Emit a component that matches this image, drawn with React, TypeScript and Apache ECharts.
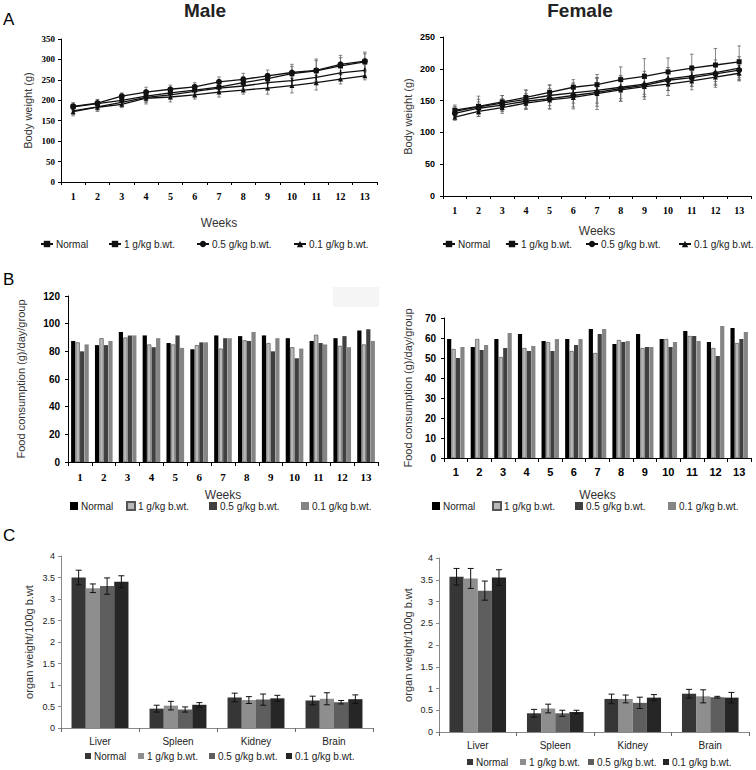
import React, { useEffect, useRef } from 'react';
import * as echarts from 'echarts';

const weeks = ['1', '2', '3', '4', '5', '6', '7', '8', '9', '10', '11', '12', '13'];
const groupNames = ['Normal', '1 g/kg b.wt.', '0.5 g/kg b.wt.', '0.1 g/kg b.wt.'];
const organs = ['Liver', 'Spleen', 'Kidney', 'Brain'];

// Panel A – body weight (g)
const maleWtNormal = [174, 184, 195, 207, 213, 222, 230, 235, 243, 248, 256, 267, 273];
const maleWt1g = [184, 192, 200, 210, 218, 225, 232, 243, 253, 265, 272, 284, 294];
const maleWt05 = [185, 193, 210, 220, 227, 233, 245, 251, 260, 268, 273, 288, 296];
const maleWt01 = [172, 183, 190, 205, 208, 213, 220, 225, 230, 236, 243, 252, 260];
const maleErrNormal = [8, 10, 10, 12, 10, 12, 10, 12, 14, 12, 12, 14, 14];
const maleErr1g = [10, 10, 10, 12, 8, 10, 10, 15, 12, 18, 25, 20, 20];
const maleErr05 = [8, 8, 8, 12, 10, 10, 12, 15, 14, 20, 28, 22, 22];
const maleErr01 = [10, 10, 8, 14, 12, 10, 12, 10, 15, 18, 18, 12, 10];

const femaleWtNormal = [133, 140, 146, 152, 158, 162, 166, 171, 176, 184, 189, 194, 201];
const femaleWt1g = [135, 141, 148, 155, 163, 171, 175, 183, 188, 195, 201, 206, 211];
const femaleWt05 = [130, 138, 143, 149, 153, 158, 163, 169, 174, 182, 186, 192, 198];
const femaleWt01 = [124, 133, 139, 146, 151, 155, 161, 167, 172, 176, 181, 187, 193];
const femaleErrNormal = [8, 12, 12, 14, 16, 16, 20, 18, 20, 18, 16, 20, 18];
const femaleErr1g = [8, 16, 10, 12, 12, 12, 16, 20, 28, 22, 22, 26, 25];
const femaleErr05 = [6, 10, 10, 12, 16, 18, 22, 20, 18, 16, 14, 16, 16];
const femaleErr01 = [5, 8, 9, 10, 14, 18, 25, 18, 20, 18, 14, 16, 12];

// Panel B – food consumption (g)/day/group
const maleFoodNormal = [87.5, 84.5, 94, 91.5, 86, 81.5, 91.5, 91, 91.5, 89.5, 87.5, 89.5, 95];
const maleFood1g = [86.5, 89.5, 90, 85, 85, 84.5, 82, 88, 86, 83, 92, 84, 85];
const maleFood05 = [80, 84.5, 91.5, 83, 91.5, 86.5, 89.5, 87.5, 80, 75, 86, 91, 96];
const maleFood01 = [85, 87.5, 91.5, 89.5, 82.5, 86.5, 89.5, 94, 89.5, 82, 85, 83, 87.5];

const femaleFoodNormal = [59.5, 55.5, 59.5, 62, 58.5, 59.5, 64.5, 57, 62, 59.5, 63.5, 58, 65];
const femaleFood1g = [54.5, 59.5, 50.5, 55, 58, 53.5, 52.5, 59, 55, 59.5, 61, 55, 57.5];
const femaleFood05 = [50, 54, 55, 53.5, 53.5, 56.5, 62, 58, 55.5, 55.5, 61, 51, 59.5];
const femaleFood01 = [55.5, 56.5, 62.5, 56, 59.5, 59.5, 64.5, 58.5, 55.5, 58, 58.5, 66, 63];

// Panel C – organ weight / 100 g b.wt (mean, error)
const maleOrganNormal = [3.5, 0.45, 0.71, 0.64];
const maleOrgan1g = [3.25, 0.52, 0.65, 0.68];
const maleOrgan05 = [3.3, 0.43, 0.66, 0.6];
const maleOrgan01 = [3.4, 0.54, 0.69, 0.67];
const maleOrganErrNormal = [0.17, 0.08, 0.1, 0.1];
const maleOrganErr1g = [0.1, 0.1, 0.08, 0.14];
const maleOrganErr05 = [0.19, 0.06, 0.13, 0.04];
const maleOrganErr01 = [0.14, 0.05, 0.07, 0.1];

const femaleOrganNormal = [3.57, 0.43, 0.76, 0.88];
const femaleOrgan1g = [3.53, 0.54, 0.76, 0.82];
const femaleOrgan05 = [3.25, 0.43, 0.67, 0.8];
const femaleOrgan01 = [3.55, 0.46, 0.79, 0.79];
const femaleOrganErrNormal = [0.19, 0.09, 0.11, 0.1];
const femaleOrganErr1g = [0.23, 0.1, 0.09, 0.15];
const femaleOrganErr05 = [0.22, 0.07, 0.13, 0.02];
const femaleOrganErr01 = [0.18, 0.04, 0.07, 0.12];

const SANS = 'Liberation Sans, Arial, sans-serif';
const SERIF = 'Liberation Serif, Times New Roman, serif';

function lineErr(color: string, cap: number) {
  return (params: any, api: any) => {
    const x = api.value(0);
    const y = api.value(1);
    const e = api.value(2);
    const p1 = api.coord([x, y + e]);
    const p2 = api.coord([x, y - e]);
    const st = { stroke: color, lineWidth: 0.8 };
    return {
      type: 'group',
      children: [
        { type: 'line', shape: { x1: p1[0], y1: p1[1], x2: p2[0], y2: p2[1] }, style: st },
        { type: 'line', shape: { x1: p1[0] - cap, y1: p1[1], x2: p1[0] + cap, y2: p1[1] }, style: st },
        { type: 'line', shape: { x1: p2[0] - cap, y1: p2[1], x2: p2[0] + cap, y2: p2[1] }, style: st },
      ],
    };
  };
}

function barErr(idx: number, n: number, gap: number, cap: number) {
  return (params: any, api: any) => {
    const x = api.value(0);
    const y = api.value(1);
    const e = api.value(2);
    const w = api.size([1, 0])[0];
    const gw = w * (1 - gap);
    const bw = gw / n;
    const off = -gw / 2 + bw * (idx + 0.5);
    const p1 = api.coord([x, y + e]);
    const p2 = api.coord([x, y - e]);
    const cx = p1[0] + off;
    const st = { stroke: '#111', lineWidth: 1 };
    return {
      type: 'group',
      children: [
        { type: 'line', shape: { x1: cx, y1: p1[1], x2: cx, y2: p2[1] }, style: st },
        { type: 'line', shape: { x1: cx - cap, y1: p1[1], x2: cx + cap, y2: p1[1] }, style: st },
        { type: 'line', shape: { x1: cx - cap, y1: p2[1], x2: cx + cap, y2: p2[1] }, style: st },
      ],
    };
  };
}

const lineSymbols: any[] = [
  { symbol: 'path://M0,0H1V10H0Z', symbolSize: [1.5, 6] },
  { symbol: 'rect', symbolSize: 5 },
  { symbol: 'circle', symbolSize: 6 },
  { symbol: 'triangle', symbolSize: 5 },
];

const foodColors = ['#000000', '#b8b8b8', '#404040', '#858585'];
const organColors = ['#363636', '#8e8e8e', '#5e5e5e', '#262626'];

export default function App() {
  const ref = useRef<HTMLDivElement>(null);

  useEffect(() => {
    document.body.style.margin = '0';
    const chart = echarts.init(ref.current!, null, { renderer: 'svg', width: 756, height: 770 });

    const series: any[] = [];
    const legends: any[] = [];

    const addLegend = (name: string, left: number, top: number, extra: any = {}) => {
      legends.push({
        data: [name],
        left,
        top,
        padding: 0,
        itemGap: 0,
        selectedMode: false,
        formatter: (n: string) => n.split('|')[1],
        textStyle: { fontFamily: SANS, fontSize: 10, color: '#222', padding: [0, 0, 0, -2] },
        ...extra,
      });
    };

    // Panel A
    const aPanels = [
      { key: 'am', grid: 0, vals: [maleWtNormal, maleWt1g, maleWt05, maleWt01], errs: [maleErrNormal, maleErr1g, maleErr05, maleErr01], legLeft: [40, 108, 196, 293], legTop: 239 },
      { key: 'af', grid: 1, vals: [femaleWtNormal, femaleWt1g, femaleWt05, femaleWt01], errs: [femaleErrNormal, femaleErr1g, femaleErr05, femaleErr01], legLeft: [442, 505, 585, 678], legTop: 239 },
    ];
    aPanels.forEach((p) => {
      p.vals.forEach((vals, i) => {
        series.push({
          type: 'custom',
          xAxisIndex: p.grid,
          yAxisIndex: p.grid,
          renderItem: lineErr('#666', 1.8),
          encode: { x: 0, y: 1 },
          data: vals.map((v, k) => [k, v, p.errs[i][k]]),
          z: 1,
          silent: true,
        });
        const nm = `${p.key}${i}|${groupNames[i]}`;
        series.push({
          type: 'line',
          name: nm,
          xAxisIndex: p.grid,
          yAxisIndex: p.grid,
          data: vals,
          ...lineSymbols[i],
          showAllSymbol: true,
          lineStyle: { color: '#111', width: 1.3 },
          itemStyle: { color: '#111' },
          z: 3,
        });
        addLegend(nm, p.legLeft[i], p.legTop, { itemWidth: 12, itemHeight: 8 });
      });
    });

    // Panel B
    const bPanels = [
      { key: 'bm', grid: 2, vals: [maleFoodNormal, maleFood1g, maleFood05, maleFood01], legLeft: [70, 126, 209, 301], legTop: 501 },
      { key: 'bf', grid: 3, vals: [femaleFoodNormal, femaleFood1g, femaleFood05, femaleFood01], legLeft: [432, 492, 575, 668], legTop: 501 },
    ];
    bPanels.forEach((p) => {
      p.vals.forEach((vals, i) => {
        const nm = `${p.key}${i}|${groupNames[i]}`;
        series.push({
          type: 'bar',
          name: nm,
          xAxisIndex: p.grid,
          yAxisIndex: p.grid,
          data: vals,
          barGap: '6%',
          barCategoryGap: '26%',
          itemStyle: i === 1
            ? { color: foodColors[i], borderColor: '#555', borderWidth: 0.7 }
            : { color: foodColors[i] },
        });
        addLegend(nm, p.legLeft[i], p.legTop, { itemWidth: 8, itemHeight: 8, icon: 'rect' });
      });
    });

    // Panel C
    const cPanels = [
      { key: 'cm', grid: 4, vals: [maleOrganNormal, maleOrgan1g, maleOrgan05, maleOrgan01], errs: [maleOrganErrNormal, maleOrganErr1g, maleOrganErr05, maleOrganErr01], legLeft: [85, 138, 209, 286], legTop: 751 },
      { key: 'cf', grid: 5, vals: [femaleOrganNormal, femaleOrgan1g, femaleOrgan05, femaleOrgan01], errs: [femaleOrganErrNormal, femaleOrganErr1g, femaleOrganErr05, femaleOrganErr01], legLeft: [467, 520, 588, 663], legTop: 757 },
    ];
    cPanels.forEach((p) => {
      p.vals.forEach((vals, i) => {
        const nm = `${p.key}${i}|${groupNames[i]}`;
        series.push({
          type: 'bar',
          name: nm,
          xAxisIndex: p.grid,
          yAxisIndex: p.grid,
          data: vals,
          barGap: '0%',
          barCategoryGap: '27%',
          itemStyle: { color: organColors[i] },
          z: 2,
        });
        series.push({
          type: 'custom',
          xAxisIndex: p.grid,
          yAxisIndex: p.grid,
          renderItem: barErr(i, 4, 0.27, 3),
          encode: { x: 0, y: 1 },
          data: vals.map((v, k) => [k, v, p.errs[i][k]]),
          z: 5,
          silent: true,
        });
        addLegend(nm, p.legLeft[i], p.legTop, { itemWidth: 6, itemHeight: 6, icon: 'rect' });
      });
    });

    const grids = [
      { left: 61, top: 39, width: 316, height: 143 },
      { left: 443, top: 37, width: 308, height: 159 },
      { left: 68, top: 296, width: 310, height: 166 },
      { left: 444, top: 318, width: 307, height: 140 },
      { left: 61, top: 556, width: 312, height: 172 },
      { left: 439, top: 558, width: 310, height: 174 },
    ];

    const blackLine = { show: true, lineStyle: { color: '#000', width: 1 } };
    const grayLine = { show: true, lineStyle: { color: '#888', width: 1 } };

    const xAxes: any[] = [
      {
        gridIndex: 0, type: 'category', data: weeks, axisLine: blackLine,
        axisTick: { show: true, length: 3, lineStyle: { color: '#000' } },
        axisLabel: { fontFamily: SERIF, fontWeight: 'bold', fontSize: 10, color: '#000', margin: 9 },
        name: 'Weeks', nameLocation: 'middle', nameGap: 35,
        nameTextStyle: { fontFamily: SANS, fontSize: 12, color: '#333' },
      },
      {
        gridIndex: 1, type: 'category', data: weeks, axisLine: blackLine,
        axisTick: { show: true, length: 3, lineStyle: { color: '#000' } },
        axisLabel: { fontFamily: SERIF, fontWeight: 'bold', fontSize: 10, color: '#000', margin: 9 },
        name: 'Weeks', nameLocation: 'middle', nameGap: 29,
        nameTextStyle: { fontFamily: SANS, fontSize: 12, color: '#333' },
      },
      {
        gridIndex: 2, type: 'category', data: weeks, axisLine: blackLine,
        axisTick: { show: true, length: 4, lineStyle: { color: '#000' } },
        axisLabel: { fontFamily: SERIF, fontWeight: 'bold', fontSize: 11, color: '#000', margin: 9 },
        name: 'Weeks', nameLocation: 'middle', nameGap: 27,
        nameTextStyle: { fontFamily: SANS, fontSize: 12, color: '#333' },
      },
      {
        gridIndex: 3, type: 'category', data: weeks, axisLine: blackLine,
        axisTick: { show: true, length: 4, lineStyle: { color: '#000' } },
        axisLabel: { fontFamily: SANS, fontWeight: 'bold', fontSize: 11, color: '#000', margin: 8 },
        name: 'Weeks', nameLocation: 'middle', nameGap: 31,
        nameTextStyle: { fontFamily: SANS, fontSize: 12, color: '#333' },
      },
      {
        gridIndex: 4, type: 'category', data: organs, axisLine: grayLine,
        axisTick: { show: true, length: 4, lineStyle: { color: '#666' } },
        axisLabel: { fontFamily: SANS, fontSize: 10, color: '#222', margin: 8 },
      },
      {
        gridIndex: 5, type: 'category', data: organs, axisLine: grayLine,
        axisTick: { show: true, length: 4, lineStyle: { color: '#666' } },
        axisLabel: { fontFamily: SANS, fontSize: 10, color: '#222', margin: 8 },
      },
    ];

    const yBase = (gi: number, max: number, interval: number, label: any, name: string, gap: number, nameSize: number, line: any) => ({
      gridIndex: gi, type: 'value', min: 0, max, interval,
      axisLine: line,
      axisTick: { show: true, length: 3, lineStyle: { color: line.lineStyle.color } },
      splitLine: { show: false },
      axisLabel: label,
      name, nameLocation: 'middle', nameGap: gap,
      nameTextStyle: { fontFamily: SANS, fontSize: nameSize, color: '#333' },
    });

    const yAxes: any[] = [
      yBase(0, 350, 50, { fontFamily: SERIF, fontWeight: 'bold', fontSize: 9, color: '#000', margin: 6 }, 'Body weight (g)', 28, 11, blackLine),
      yBase(1, 250, 50, { fontFamily: SANS, fontWeight: 'bold', fontSize: 9, color: '#000', margin: 8 }, 'Body weight (g)', 30, 11, blackLine),
      yBase(2, 120, 20, { fontFamily: SANS, fontWeight: 'bold', fontSize: 10, color: '#000', margin: 8 }, 'Food consumption (g)/day/group', 42, 11, blackLine),
      yBase(3, 70, 10, { fontFamily: SANS, fontWeight: 'bold', fontSize: 10, color: '#000', margin: 8 }, 'Food consumption (g)/day/group', 31, 11, blackLine),
      yBase(4, 4, 0.5, { fontFamily: SANS, fontSize: 9, color: '#222', margin: 6 }, 'organ weight/100g b.wt', 27, 11, grayLine),
      yBase(5, 4, 0.5, { fontFamily: SANS, fontSize: 9, color: '#222', margin: 6 }, 'organ weight/100g b.wt', 26, 11, grayLine),
    ];

    const option: any = {
      animation: false,
      backgroundColor: '#ffffff',
      grid: grids,
      xAxis: xAxes,
      yAxis: yAxes,
      legend: legends,
      series,
      graphic: [
        { type: 'rect', left: 333, top: 287, shape: { width: 46, height: 20 }, style: { fill: '#f5f5f5' }, silent: true, z: -1 },
        { type: 'text', left: 3, top: 11, style: { text: 'A', font: `17px ${SANS}`, fill: '#000' } },
        { type: 'text', left: 3, top: 271, style: { text: 'B', font: `17px ${SANS}`, fill: '#000' } },
        { type: 'text', left: 3, top: 527, style: { text: 'C', font: `17px ${SANS}`, fill: '#000' } },
        { type: 'text', x: 205, y: 10, style: { text: 'Male', font: `bold 19px ${SANS}`, fill: '#222', align: 'center', verticalAlign: 'middle' } },
        { type: 'text', x: 580, y: 10, style: { text: 'Female', font: `bold 19px ${SANS}`, fill: '#222', align: 'center', verticalAlign: 'middle' } },
      ],
    };

    chart.setOption(option);
    return () => chart.dispose();
  }, []);

  return <div ref={ref} style={{ width: 756, height: 770 }} />;
}
